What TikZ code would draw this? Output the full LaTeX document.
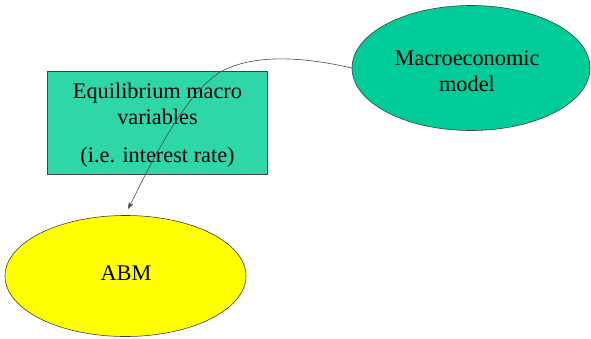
\documentclass[tikz,border=0pt]{standalone}
\usepackage{fontspec}
\setmainfont{Liberation Serif}
\usetikzlibrary{shapes.geometric,arrows.meta}
\definecolor{macrogreen}{RGB}{0,204,153}
\definecolor{boxgreen}{RGB}{46,214,168}
\definecolor{abmyellow}{RGB}{255,255,0}
\tikzset{
  oval/.style={ellipse, draw=black!75, line width=0.6pt, inner sep=0pt},
  varbox/.style={rectangle, draw=black!75, line width=0.6pt, fill=boxgreen},
  label/.style={font=\fontsize{22.3}{26}\selectfont, align=center},
  link/.style={draw=black!70, line width=0.6pt, -{Stealth[length=7pt,width=5pt]}}
}
\begin{document}
\begin{tikzpicture}[x=1pt,y=-1pt]
  \useasboundingbox (0,0) rectangle (591,338);
  % macroeconomic model
  \node[oval, fill=macrogreen, minimum width=238pt, minimum height=125pt] (macro) at (471,68) {};
  \node[label] (macrotext) at (467,71) {Macroeconomic\\model};
  % equilibrium variables box
  \node[varbox, minimum width=220pt, minimum height=103pt] (vars) at (157.5,122.5) {};
  \node[label] (varstext) at (157.5,104) {Equilibrium macro\\variables};
  \node[label] (ratetext) at (157.5,157) {(i.e. interest rate)};
  % agent based model
  \node[oval, fill=abmyellow, minimum width=241pt, minimum height=121pt] (abm) at (125.5,276) {};
  \node[label] (abmtext) at (126,273) {ABM};
  % link from macro model down to ABM
  \coordinate (bend) at (224,70);
  \coordinate (tip) at (128,209);
  \draw[link] (macro.west) .. controls (300,56) and (255,55) .. (bend)
              .. controls (185,90) and (148,170) .. (tip);
\end{tikzpicture}
\end{document}
